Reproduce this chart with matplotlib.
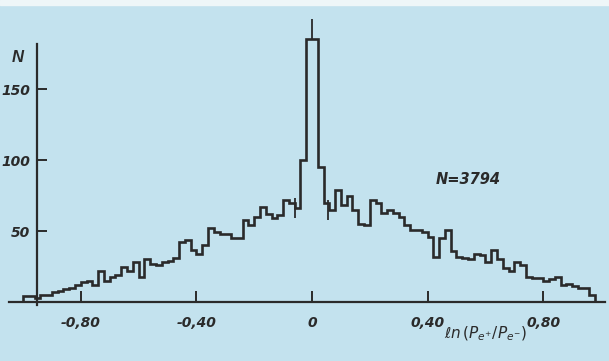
import numpy as np
import matplotlib
matplotlib.use("Agg")
import matplotlib.pyplot as plt
from matplotlib.patches import Rectangle

# ---- data ----
bin_start = -1.00
bin_width = 0.02
counts_left = [4, 4, 3, 5, 5, 7, 8, 9, 10, 12, 14, 15, 12, 22, 15, 18, 19, 25, 22, 28,
               18, 30, 27, 26, 28, 29, 31, 42, 44, 37, 34, 40, 52, 49, 48, 48, 45, 45, 58, 54,
               60, 67, 62, 59, 61, 72, 70, 66, 100, 185]
counts_right = [185, 95, 70, 65, 79, 68, 75, 65, 55, 54, 72, 70, 63, 65, 63, 60, 54, 51, 51, 49,
                46, 32, 45, 51, 36, 32, 31, 30, 34, 33, 28, 37, 30, 24, 22, 28, 26, 18, 17, 17,
                15, 16, 18, 12, 13, 11, 10, 10, 5]
err_x = [-0.059, 0.0, 0.055]
err_lo = [59, 185, 58]
err_hi = [73, 199, 72]
x_ticks = [-0.80, -0.40, 0.0, 0.40, 0.80]
x_ticklabels = ["-0,80", "-0,40", "0", "0,40", "0,80"]
y_ticks = [50, 100, 150]
y_ticklabels = ["50", "100", "150"]
n_total_label = "N=3794"

counts = np.array(counts_left + counts_right, dtype=float)
edges = bin_start + bin_width * np.arange(len(counts) + 1)

BG = "#c3e2ee"
INK = "#2a2a2a"

fig = plt.figure(figsize=(6.09, 3.61), dpi=100, facecolor=BG)
ax = fig.add_axes([0, 0, 1, 1])
ax.set_facecolor(BG)
ax.set_xlim(-1.0796, 1.0277)
ax.set_ylim(-41.5, 212.7)

# faint white strip of the scan at the top
fig.patches.append(Rectangle((0, 0.985), 1, 0.015, transform=fig.transFigure,
                             color="#eef6f8", zorder=0))

ax.stairs(counts, edges, baseline=0, color=INK, linewidth=1.9, fill=False, zorder=3)
ax.vlines(err_x, err_lo, err_hi, color=INK, linewidth=1.3, zorder=3)

# axes lines
for side in ["top", "right"]:
    ax.spines[side].set_visible(False)
ax.spines["left"].set_position(("data", -0.95))
ax.spines["bottom"].set_position(("data", 0))
ax.spines["left"].set_bounds(-2, 182)
ax.spines["bottom"].set_bounds(-1.05, 1.015)
for s in ["left", "bottom"]:
    ax.spines[s].set_color(INK)
    ax.spines[s].set_linewidth(1.6)

tick_font = dict(family=["Liberation Sans Narrow", "DejaVu Sans"], weight="bold",
                 style="italic", size=10)
ax.set_xticks(x_ticks)
ax.set_xticklabels(x_ticklabels, **tick_font, color=INK)
ax.set_yticks(y_ticks)
ax.set_yticklabels(y_ticklabels, **tick_font, color=INK)
ax.tick_params(axis="x", direction="in", length=8, width=1.4, color=INK, pad=10)
ax.tick_params(axis="y", direction="in", length=7, width=1.4, color=INK, pad=5)

ax.text(-1.02, 172, "N", ha="center", va="center", color=INK,
        family=["Liberation Sans", "DejaVu Sans"], weight="bold", style="italic", size=12)
ax.text(0.54, 86, n_total_label, ha="center", va="center", color=INK,
        family=["Liberation Sans Narrow", "DejaVu Sans"], weight="bold", style="italic",
        size=10.5)
ax.text(0.60, -22, r"$\ell n\,(P_{e^{+}}/P_{e^{-}})$", ha="center", va="center",
        color=INK, size=11)

fig.savefig("out.png", dpi=100, facecolor=BG)
